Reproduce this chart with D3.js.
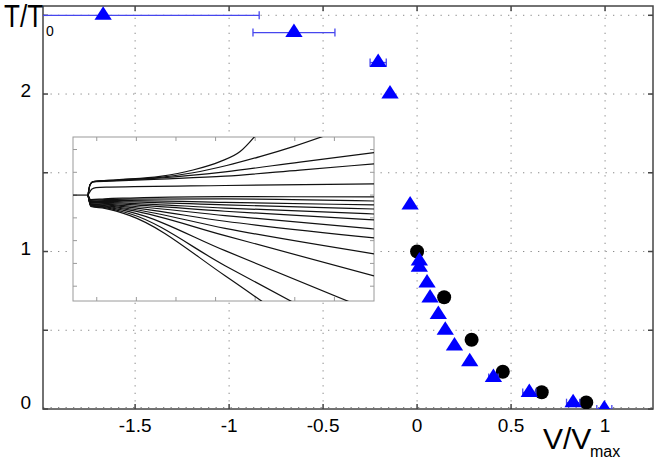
<!DOCTYPE html>
<html>
<head>
<meta charset="utf-8">
<script src="https://cdn.jsdelivr.net/npm/d3@7"></script>
<style>
  body { margin: 0; background: #fff; }
  text { font-family: "Liberation Sans", Arial, sans-serif; fill: #000; }
</style>
</head>
<body>
<svg id="chart" width="664" height="464"></svg>
<script>
// main plot data
var xTicks = [-1.5, -1, -0.5, 0, 0.5, 1];
var yTicks = [0, 0.5, 1, 1.5, 2, 2.5];
var yTickLabels = ["0", "", "1", "", "2", ""];

var triX   = [-1.67, -0.655, -0.207, -0.144, -0.037, 0.012, 0.012, 0.053, 0.069, 0.113, 0.15, 0.199, 0.28, 0.406, 0.597, 0.83, 0.996];
var triY   = [2.5, 2.39, 2.2, 2.0, 1.295, 0.94, 0.9, 0.8, 0.705, 0.6, 0.5, 0.4, 0.3, 0.2, 0.105, 0.04, 0.0];
var triErr = [0.83, 0.218, 0.043, 0, 0, 0, 0, 0, 0, 0, 0, 0, 0, 0.025, 0.035, 0.035, 0.04];

var dotX = [0.0, 0.144, 0.29, 0.456, 0.663, 0.9];
var dotY = [1.0, 0.71, 0.44, 0.237, 0.106, 0.042];

// inset data
var insetXTicks = [0, 1, 2, 3, 4, 5, 6];
var insetYTicks = [-3, -2, -1, 0, 1, 2, 3];
var insetBase = [[-0.6, 1], [-0.22, 1]];
var insetTraces = [
  [[-0.22, 1], [-0.17, 1.45], [-0.09, 1.59], [0.5, 1.67], [1.6, 1.82], [2.43, 2.1], [3.11, 2.47], [3.62, 2.91], [4.05, 3.7]],
  [[-0.22, 1], [-0.17, 1.45], [-0.09, 1.59], [0.5, 1.66], [1.6, 1.78], [2.43, 1.98], [3.28, 2.3], [4.12, 2.69], [4.96, 3.13], [5.75, 3.6]],
  [[-0.22, 1], [-0.17, 1.45], [-0.09, 1.59], [0.5, 1.64], [1.6, 1.75], [3.24, 2.02], [5.13, 2.45], [7, 2.86]],
  [[-0.22, 1], [-0.17, 1.45], [-0.09, 1.58], [0.5, 1.62], [1.6, 1.7], [3.24, 1.83], [5.13, 2.1], [7, 2.37]],
  [[-0.22, 1], [-0.12, 1.27], [-0.02, 1.33], [0.33, 1.35], [3.24, 1.42], [7, 1.49]],
  [[-0.22, 1], [-0.15, 0.8], [0.2, 0.84], [0.84, 0.87], [3.24, 0.93], [7, 0.92]],
  [[-0.22, 1], [-0.15, 0.77], [0.2, 0.8], [0.84, 0.82], [3.24, 0.83], [7, 0.74]],
  [[-0.22, 1], [-0.15, 0.74], [0.2, 0.76], [0.84, 0.76], [3.24, 0.68], [7, 0.57]],
  [[-0.22, 1], [-0.15, 0.71], [0.2, 0.72], [0.84, 0.7], [3.24, 0.57], [7, 0.39]],
  [[-0.22, 1], [-0.15, 0.68], [0.2, 0.68], [0.84, 0.64], [3.24, 0.43], [7, 0.17]],
  [[-0.22, 1], [-0.15, 0.65], [0.2, 0.64], [0.84, 0.58], [3.24, 0.29], [7, -0.09]],
  [[-0.22, 1], [-0.15, 0.62], [0.2, 0.6], [0.84, 0.52], [3.24, 0.1], [7, -0.49]],
  [[-0.22, 1], [-0.15, 0.6], [0.2, 0.57], [0.84, 0.46], [3.24, -0.15], [7, -0.88]],
  [[-0.22, 1], [-0.15, 0.58], [0.2, 0.54], [0.84, 0.4], [3.24, -0.46], [7, -1.58]],
  [[-0.22, 1], [-0.15, 0.56], [0.2, 0.51], [0.84, 0.34], [3.24, -0.78], [7, -2.55]],
  [[-0.22, 1], [-0.15, 0.54], [0.2, 0.48], [0.84, 0.26], [3.24, -1.44], [6.4, -3.7]],
  [[-0.22, 1], [-0.15, 0.52], [0.2, 0.45], [0.84, 0.18], [3.24, -2.1], [4.95, -3.7]],
  [[-0.22, 1], [-0.15, 0.5], [0.2, 0.42], [0.84, 0.1], [3.24, -2.54], [4.2, -3.7]]
];

function drawChart() {
    var svg = d3.select("#chart");
    var left = 43, right = 653, top = 6, bottom = 409;

    var x = d3.scaleLinear().domain([-1.99, 1.255]).range([left, right]);
    var y = d3.scaleLinear().domain([0, 2.559]).range([bottom, top]);

    svg.append("rect").attr("width", 664).attr("height", 464).attr("fill", "#fff");

    svg.append("clipPath").attr("id", "plotclip")
        .append("rect")
        .attr("x", left).attr("y", top)
        .attr("width", right - left).attr("height", bottom - top);

    // dotted grid
    var grid = svg.append("g").attr("stroke", "#8a8a8a").attr("stroke-width", 1)
        .attr("stroke-dasharray", "1.3,6.2");
    grid.selectAll(".vg").data(xTicks).enter().append("line")
        .attr("x1", function(d) { return x(d); })
        .attr("x2", function(d) { return x(d); })
        .attr("y1", bottom).attr("y2", top);
    grid.selectAll(".hg").data(yTicks).enter().append("line")
        .attr("y1", function(d) { return y(d) - (d === 0 ? 1.5 : 0); })
        .attr("y2", function(d) { return y(d) - (d === 0 ? 1.5 : 0); })
        .attr("x1", left).attr("x2", right);

    // inset
    var ix = d3.scaleLinear().domain([-0.6, 7]).range([73, 374]);
    var iy = d3.scaleLinear().domain([-3.65, 3.55]).range([301, 137]);
    var inset = svg.append("g");
    inset.append("rect")
        .attr("x", 73).attr("y", 137).attr("width", 301).attr("height", 164)
        .attr("fill", "#fff").attr("stroke", "#9a9a9a").attr("stroke-width", 1);
    svg.append("clipPath").attr("id", "insetclip")
        .append("rect").attr("x", 73).attr("y", 137).attr("width", 301).attr("height", 164);

    var it = inset.append("g").attr("stroke", "#9a9a9a").attr("stroke-width", 1);
    insetXTicks.forEach(function(d) {
        it.append("line").attr("x1", ix(d)).attr("x2", ix(d)).attr("y1", 301).attr("y2", 297);
        it.append("line").attr("x1", ix(d)).attr("x2", ix(d)).attr("y1", 137).attr("y2", 141);
    });
    insetYTicks.forEach(function(d) {
        it.append("line").attr("y1", iy(d)).attr("y2", iy(d)).attr("x1", 73).attr("x2", 77);
        it.append("line").attr("y1", iy(d)).attr("y2", iy(d)).attr("x1", 374).attr("x2", 370);
    });

    var iline = d3.line()
        .x(function(d) { return ix(d[0]); })
        .y(function(d) { return iy(d[1]); })
        .curve(d3.curveMonotoneX);
    var traces = inset.append("g").attr("clip-path", "url(#insetclip)");
    traces.append("path").attr("d", iline(insetBase))
        .attr("fill", "none").attr("stroke", "#111").attr("stroke-width", 1.2);
    traces.selectAll(".trace").data(insetTraces).enter().append("path")
        .attr("class", "trace")
        .attr("d", iline)
        .attr("fill", "none")
        .attr("stroke", "#111")
        .attr("stroke-width", 1.2);

    // axes box + inward ticks
    var ax = svg.append("g").attr("stroke", "#444").attr("stroke-width", 1.5);
    ax.append("rect").attr("x", left).attr("y", top)
        .attr("width", right - left).attr("height", bottom - top).attr("fill", "none");
    xTicks.forEach(function(d) {
        ax.append("line").attr("x1", x(d)).attr("x2", x(d)).attr("y1", bottom).attr("y2", bottom - 5);
        ax.append("line").attr("x1", x(d)).attr("x2", x(d)).attr("y1", top).attr("y2", top + 5);
    });
    yTicks.forEach(function(d) {
        ax.append("line").attr("y1", y(d)).attr("y2", y(d)).attr("x1", left).attr("x2", left + 5);
        ax.append("line").attr("y1", y(d)).attr("y2", y(d)).attr("x1", right).attr("x2", right - 5);
    });

    // tick labels
    svg.selectAll(".xl").data(xTicks).enter().append("text")
        .attr("x", function(d) { return x(d); })
        .attr("y", 432)
        .attr("text-anchor", "middle")
        .attr("font-size", "19px")
        .text(function(d) { return d; });
    svg.selectAll(".yl").data(yTicks).enter().append("text")
        .attr("x", 31)
        .attr("y", function(d) { return Math.min(y(d) + 3, bottom); })
        .attr("text-anchor", "end")
        .attr("font-size", "19px")
        .text(function(d, i) { return yTickLabels[i]; });

    // markers
    var plot = svg.append("g").attr("clip-path", "url(#plotclip)");
    var tri = triX.map(function(d, i) { return { x: d, y: triY[i], e: triErr[i] }; });

    plot.selectAll(".dot").data(dotX).enter().append("circle")
        .attr("cx", function(d) { return x(d); })
        .attr("cy", function(d, i) { return y(dotY[i]); })
        .attr("r", 7)
        .attr("fill", "#000");

    var eb = plot.append("g").attr("stroke", "#4646ee").attr("stroke-width", 1.3);
    tri.filter(function(d) { return d.e > 0; }).forEach(function(d) {
        eb.append("line").attr("x1", x(d.x - d.e)).attr("x2", x(d.x + d.e))
            .attr("y1", y(d.y)).attr("y2", y(d.y));
        eb.append("line").attr("x1", x(d.x - d.e)).attr("x2", x(d.x - d.e))
            .attr("y1", y(d.y) - 4).attr("y2", y(d.y) + 4);
        eb.append("line").attr("x1", x(d.x + d.e)).attr("x2", x(d.x + d.e))
            .attr("y1", y(d.y) - 4).attr("y2", y(d.y) + 4);
    });

    plot.selectAll(".tri").data(tri).enter().append("path")
        .attr("transform", function(d) { return "translate(" + x(d.x) + "," + y(d.y) + ") scale(1,0.9)"; })
        .attr("d", d3.symbol().type(d3.symbolTriangle).size(130))
        .attr("fill", "#0000ff");

    // axis titles
    svg.append("text").attr("transform", "translate(4,27) scale(0.84,1)")
        .attr("font-size", "31px").text("T/T");
    svg.append("text").attr("x", 46).attr("y", 36).attr("font-size", "14px").text("0");

    svg.append("text").attr("x", 543).attr("y", 449).attr("font-size", "30px").text("V/V");
    svg.append("text").attr("x", 590).attr("y", 457).attr("font-size", "16px").text("max");
}

drawChart();
</script>
</body>
</html>
